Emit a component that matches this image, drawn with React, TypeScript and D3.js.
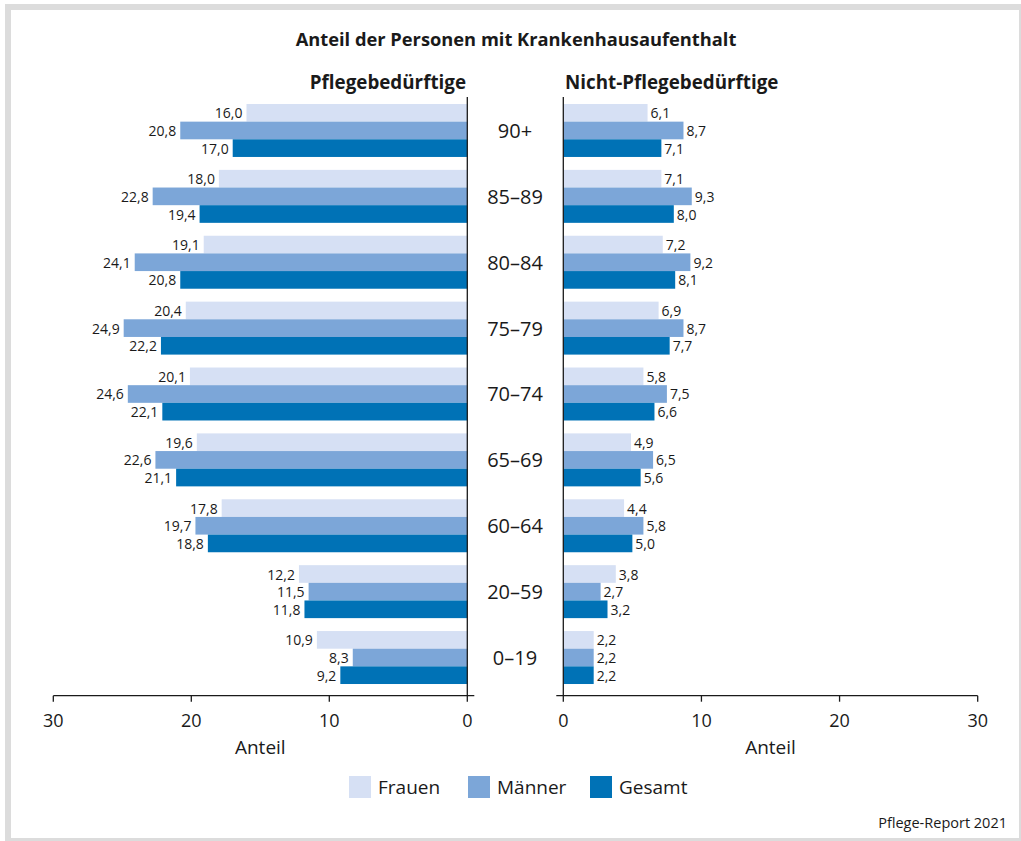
import React from "react";
import * as d3 from "d3";

const categories = ["90+", "85–89", "80–84", "75–79", "70–74", "65–69", "60–64", "20–59", "0–19"];
const seriesNames = ["Frauen", "Männer", "Gesamt"];
const seriesColors = ["#d6e0f4", "#7ca6d8", "#0072b6"];

const pflegeFrauen = [16.0, 18.0, 19.1, 20.4, 20.1, 19.6, 17.8, 12.2, 10.9];
const pflegeMaenner = [20.8, 22.8, 24.1, 24.9, 24.6, 22.6, 19.7, 11.5, 8.3];
const pflegeGesamt = [17.0, 19.4, 20.8, 22.2, 22.1, 21.1, 18.8, 11.8, 9.2];

const nichtFrauen = [6.1, 7.1, 7.2, 6.9, 5.8, 4.9, 4.4, 3.8, 2.2];
const nichtMaenner = [8.7, 9.3, 9.2, 8.7, 7.5, 6.5, 5.8, 2.7, 2.2];
const nichtGesamt = [7.1, 8.0, 8.1, 7.7, 6.6, 5.6, 5.0, 3.2, 2.2];

const tickValues = [0, 10, 20, 30];

const title = "Anteil der Personen mit Krankenhausaufenthalt";
const leftTitle = "Pflegebedürftige";
const rightTitle = "Nicht-Pflegebedürftige";
const axisTitle = "Anteil";
const source = "Pflege-Report 2021";

const FONT = "'Open Sans', 'Noto Sans', sans-serif";
const TXT = "#1a1a1a";

const fmt = (v: number) => v.toFixed(1).replace(".", ",");

export default function App() {
  const W = 1021;
  const H = 841;
  const axisY = 695.7;

  const xL = d3.scaleLinear().domain([0, 30]).range([467.3, 53.3]);
  const xR = d3.scaleLinear().domain([0, 30]).range([563.3, 977.7]);

  const y = d3
    .scaleBand<string>()
    .domain(categories)
    .range([97.4, 690.6])
    .paddingInner(0.196)
    .paddingOuter(0.1);
  const ySub = d3.scaleBand<string>().domain(seriesNames).range([0, y.bandwidth()]);

  const leftData = [pflegeFrauen, pflegeMaenner, pflegeGesamt];
  const rightData = [nichtFrauen, nichtMaenner, nichtGesamt];

  const fmtFmt = d3.format("d");

  const legendX = [349, 468, 590];

  return (
    <svg
      width={W}
      height={H}
      style={{ position: "absolute", left: 0, top: 0, display: "block" }}
      fontFamily={FONT}
    >
      <rect x={5} y={4} width={W} height={H} fill="#dcdcdc" />
      <rect x={11} y={10} width={1008} height={828} fill="#ffffff" />

      <text x={516} y={38} textAnchor="middle" dominantBaseline="central" fontSize={18.3} fontWeight={700} fill={TXT}>
        {title}
      </text>
      <text x={466} y={82} textAnchor="end" dominantBaseline="central" fontSize={18.8} fontWeight={700} fill={TXT}>
        {leftTitle}
      </text>
      <text x={565} y={82} textAnchor="start" dominantBaseline="central" fontSize={18.8} fontWeight={700} fill={TXT}>
        {rightTitle}
      </text>

      {categories.map((c, i) => (
        <g key={c} transform={`translate(0,${y(c)})`}>
          {seriesNames.map((s, j) => {
            const vL = leftData[j][i];
            const vR = rightData[j][i];
            const yy = ySub(s)!;
            const h = ySub.bandwidth();
            return (
              <g key={s}>
                <rect x={xL(vL)} y={yy} width={xL(0) - xL(vL)} height={h} fill={seriesColors[j]} />
                <text
                  x={xL(vL) - 4}
                  y={yy + h / 2}
                  textAnchor="end"
                  dominantBaseline="central"
                  fontSize={14}
                  fill={TXT}
                >
                  {fmt(vL)}
                </text>
                <rect x={xR(0)} y={yy} width={xR(vR) - xR(0)} height={h} fill={seriesColors[j]} />
                <text
                  x={xR(vR) + 3}
                  y={yy + h / 2}
                  textAnchor="start"
                  dominantBaseline="central"
                  fontSize={14}
                  fill={TXT}
                >
                  {fmt(vR)}
                </text>
              </g>
            );
          })}
          <text
            x={515}
            y={y.bandwidth() / 2}
            textAnchor="middle"
            dominantBaseline="central"
            fontSize={20}
            fill={TXT}
          >
            {c}
          </text>
        </g>
      ))}

      {/* vertical zero lines */}
      <line x1={xL(0)} x2={xL(0)} y1={97} y2={axisY} stroke={TXT} strokeWidth={1.3} />
      <line x1={xR(0)} x2={xR(0)} y1={97} y2={axisY} stroke={TXT} strokeWidth={1.3} />

      {/* bottom axes */}
      <line x1={xL(30)} x2={xL(0) + 7} y1={axisY} y2={axisY} stroke={TXT} strokeWidth={1.3} />
      <line x1={xR(0) - 7} x2={xR(30)} y1={axisY} y2={axisY} stroke={TXT} strokeWidth={1.3} />
      {tickValues.map((t) => (
        <g key={"l" + t}>
          <line x1={xL(t)} x2={xL(t)} y1={axisY} y2={axisY + 6} stroke={TXT} strokeWidth={1.3} />
          <text x={xL(t)} y={720} textAnchor="middle" dominantBaseline="central" fontSize={18} fill={TXT}>
            {fmtFmt(t)}
          </text>
          <line x1={xR(t)} x2={xR(t)} y1={axisY} y2={axisY + 6} stroke={TXT} strokeWidth={1.3} />
          <text x={xR(t)} y={720} textAnchor="middle" dominantBaseline="central" fontSize={18} fill={TXT}>
            {fmtFmt(t)}
          </text>
        </g>
      ))}
      <text x={(xL(30) + xL(0)) / 2} y={747} textAnchor="middle" dominantBaseline="central" fontSize={19} fill={TXT}>
        {axisTitle}
      </text>
      <text x={(xR(30) + xR(0)) / 2} y={747} textAnchor="middle" dominantBaseline="central" fontSize={19} fill={TXT}>
        {axisTitle}
      </text>

      {/* legend */}
      {seriesNames.map((s, j) => (
        <g key={"lg" + s} transform={`translate(${legendX[j]},776)`}>
          <rect x={0} y={0} width={22} height={22} fill={seriesColors[j]} />
          <text x={29} y={11} dominantBaseline="central" fontSize={19} fill={TXT}>
            {s}
          </text>
        </g>
      ))}

      <text x={1007} y={822} textAnchor="end" dominantBaseline="central" fontSize={14.5} fill={TXT}>
        {source}
      </text>
    </svg>
  );
}
